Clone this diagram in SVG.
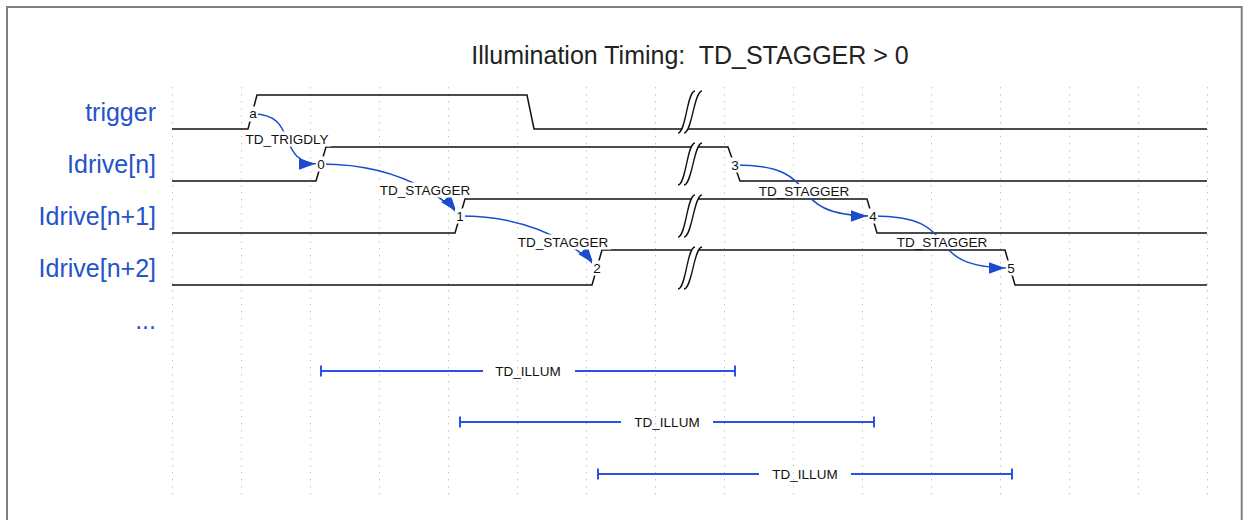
<svg xmlns="http://www.w3.org/2000/svg" width="1250" height="520" viewBox="0 0 1250 520">
<style>
.grid{stroke:#c4c4c4;stroke-width:1;stroke-dasharray:1.5 5.5;fill:none}
.wave{fill:none;stroke:#111;stroke-width:1.5;stroke-linejoin:miter}
.gapline{fill:none;stroke:#111;stroke-width:1.3}
.lbl{font-family:"Liberation Sans",Arial,sans-serif;font-size:25px;fill:#2553c9;text-anchor:end}
.title{font-family:"Liberation Sans",Arial,sans-serif;font-size:25px;fill:#222;text-anchor:middle;white-space:pre}
.small{font-family:"Liberation Sans",Arial,sans-serif;font-size:13.5px;fill:#111;text-anchor:middle}
.bg{fill:#fff}
.arc{fill:none;stroke:#1a4ccc;stroke-width:1.5;marker-end:url(#arrow)}
.bar{fill:none;stroke:#2d50e6;stroke-width:2}
</style>
<defs>
<marker id="arrow" markerUnits="userSpaceOnUse" viewBox="0 -4 11 8" refX="15" refY="0" markerWidth="16.5" markerHeight="12" orient="auto"><path d="M0,-4 L11,0 L0,4 Z" fill="#1a4ccc"/></marker>
<g id="gap">
<path d="M-12,21 C-4,21 -3,-21 5,-21 L12,-21 C4,-21 2,21 -6,21 Z" fill="#fff"/>
<path class="gapline" d="M-12,21 C-4,21 -3,-21 5,-21"/>
<path class="gapline" d="M-6,21 C2,21 4,-21 12,-21"/>
</g>
</defs>
<rect x="7" y="7" width="1234.7" height="540" fill="#fff" stroke="#808080" stroke-width="2"/>
<g id="grid">
<path class="grid" d="M172.5,87V495M241.5,87V495M310.5,87V495M379.5,87V495M448.5,87V495M517.5,87V495M586.5,87V495M655.5,87V495M724.5,87V495M793.5,87V495M862.5,87V495M931.5,87V495M1000.5,87V495M1069.5,87V495M1138.5,87V495M1207.5,87V495"/>
</g>
<text class="title" x="690" y="64" xml:space="preserve">Illumination Timing:  TD_STAGGER &gt; 0</text>
<g id="trigger">
<text class="lbl" x="156" y="121">trigger</text>
<path class="wave" d="M172,129H248L257,95H527L534,129H1207"/>
<use href="#gap" x="690" y="112"/>
</g>
<g id="idrive_n">
<text class="lbl" x="156" y="173">Idrive[n]</text>
<path class="wave" d="M172,181H316L326,147H728L740,181H1207"/>
<use href="#gap" x="690" y="164"/>
</g>
<g id="idrive_n1">
<text class="lbl" x="156" y="225">Idrive[n+1]</text>
<path class="wave" d="M172,233H455L465,199H867L877,233H1207"/>
<use href="#gap" x="690" y="216"/>
</g>
<g id="idrive_n2">
<text class="lbl" x="156" y="277">Idrive[n+2]</text>
<path class="wave" d="M172,285H592L602,250H1005L1015,285H1207"/>
<use href="#gap" x="690" y="268"/>
</g>
<g id="more">
<text class="lbl" x="156" y="329">...</text>
</g>
<g id="connectors">
<path class="arc" d="M253,114 c47.6,0 20.4,50 68,50"/>
<path class="arc" d="M321,164 c97.3,0 139,52 139,52"/>
<path class="arc" d="M460,216 c95.9,0 137,52 137,52"/>
<path class="arc" d="M735,165 c96.6,0 41.4,51 138,51"/>
<path class="arc" d="M873,216 c96.6,0 41.4,52 138,52"/>
<rect class="bg" x="243" y="131.5" width="88" height="15"/>
<text class="small" x="287" y="144">TD_TRIGDLY</text>
<rect class="bg" x="377" y="182.5" width="96" height="15"/>
<text class="small" x="425" y="195">TD_STAGGER</text>
<rect class="bg" x="515" y="234.5" width="96" height="15"/>
<text class="small" x="563" y="247">TD_STAGGER</text>
<rect class="bg" x="756" y="184" width="96" height="14"/>
<text class="small" x="804" y="196">TD_STAGGER</text>
<rect class="bg" x="894" y="235" width="96" height="14"/>
<text class="small" x="942" y="247">TD_STAGGER</text>
<path class="bar" d="M321,365.5V376.5M321,371H483M575,371H735M735,365.5V376.5"/>
<text class="small" x="528" y="376">TD_ILLUM</text>
<path class="bar" d="M460,416.5V427.5M460,422H621M713,422H874M874,416.5V427.5"/>
<text class="small" x="667" y="427">TD_ILLUM</text>
<path class="bar" d="M598,468.5V479.5M598,474H759M851,474H1012M1012,468.5V479.5"/>
<text class="small" x="805" y="479">TD_ILLUM</text>
</g>
<g id="nodes">
<rect class="bg" x="248" y="106.5" width="10" height="15"/>
<text class="small" x="253" y="118">a</text>
<rect class="bg" x="316" y="156.5" width="10" height="15"/>
<text class="small" x="321" y="169">0</text>
<rect class="bg" x="455" y="208.5" width="10" height="15"/>
<text class="small" x="460" y="221">1</text>
<rect class="bg" x="592" y="260.5" width="10" height="15"/>
<text class="small" x="597" y="273">2</text>
<rect class="bg" x="730" y="157.5" width="10" height="15"/>
<text class="small" x="735" y="170">3</text>
<rect class="bg" x="868" y="208.5" width="10" height="15"/>
<text class="small" x="873" y="221">4</text>
<rect class="bg" x="1006" y="260.5" width="10" height="15"/>
<text class="small" x="1011" y="273">5</text>
</g>
</svg>
